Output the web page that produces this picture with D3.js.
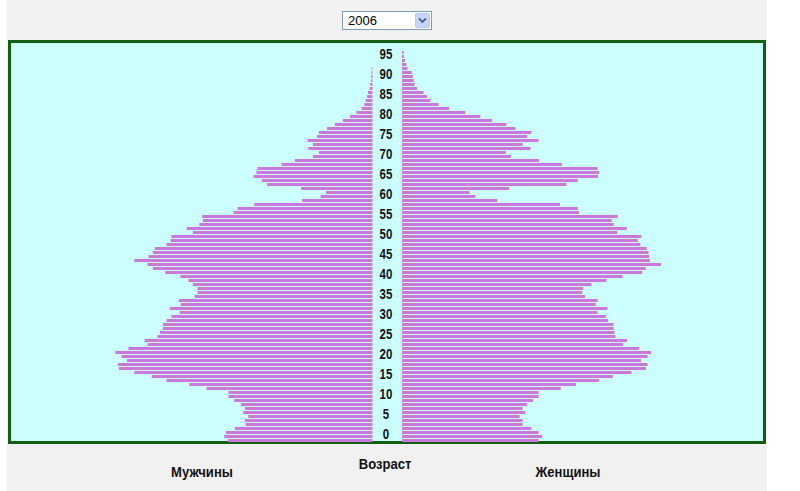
<!DOCTYPE html>
<html><head><meta charset="utf-8">
<script src="https://cdn.jsdelivr.net/npm/d3@7"></script>
<style>
html,body{margin:0;padding:0;background:#fff;}
svg{display:block;}
</style></head>
<body>
<svg id="chart" width="800" height="491"></svg>
<script>
// ---- data ----
const years = ["2006"];
const ages = [0,1,2,3,4,5,6,7,8,9,10,11,12,13,14,15,16,17,18,19,20,21,22,23,24,25,26,27,28,29,30,31,32,33,34,35,36,37,38,39,40,41,42,43,44,45,46,47,48,49,50,51,52,53,54,55,56,57,58,59,60,61,62,63,64,65,66,67,68,69,70,71,72,73,74,75,76,77,78,79,80,81,82,83,84,85,86,87,88,89,90,91,92,93,94,95,96,97];
// thousands of people
const males = [723,741,732,688,634,638,621,646,638,657,
691,720,720,830,916,1030,1104,1191,1268,1273,
1227,1255,1286,1220,1125,1139,1075,1063,1048,1048,
1030,1005,964,1014,959,968,889,875,875,898,
920,961,1036,1098,1125,1191,1120,1098,1089,1030,
1009,1005,898,929,866,848,852,695,675,591,
352,259,232,357,527,554,595,580,575,455,
388,298,268,321,298,325,277,268,227,188,
148,113,80,54,41,34,27,23,14,11,
7,7,5,4,0,0,0,0];
const females = [683,701,683,647,603,603,588,617,603,626,
656,683,683,794,870,986,1054,1147,1219,1228,
1195,1228,1245,1186,1106,1126,1067,1063,1058,1058,
1031,1019,978,1027,969,978,915,901,906,947,
1022,1103,1201,1219,1295,1240,1236,1233,1224,1192,
1179,1197,1076,1124,1058,1049,1079,885,879,790,
477,367,338,536,822,879,981,986,978,799,
686,544,519,642,603,683,626,647,567,522,
451,392,317,236,183,142,126,108,76,63,
59,54,49,28,22,15,10,8];
const ageTicks = [0,5,10,15,20,25,30,35,40,45,50,55,60,65,70,75,80,85,90,95];
const labelMale = "Мужчины";
const labelAge = "Возраст";
const labelFemale = "Женщины";

// ---- drawing ----
const svg = d3.select("#chart");
const sans = "'Liberation Sans',Arial,sans-serif";
const narrowX = 0.82; // condensed, like Arial Narrow

svg.append("rect").attr("x",7).attr("y",0).attr("width",760).attr("height",491).attr("fill","#f1f1f1");

// year selector
const sel = svg.append("g");
sel.append("rect").attr("x",342.5).attr("y",11.5).attr("width",89).attr("height",18)
  .attr("fill","#fff").attr("stroke","#7f9db9");
sel.append("rect").attr("x",415.5).attr("y",13.5).attr("width",14).attr("height",14)
  .attr("fill","#c6d7fb").attr("stroke","#b3c8f5").attr("rx",1.5);
sel.append("path").attr("d","M419,18.5 L422.5,22 L426,18.5").attr("fill","none")
  .attr("stroke","#4d6185").attr("stroke-width",1.8);
sel.append("text").attr("x",348).attr("y",25).text(years[0])
  .attr("font-family",sans).attr("font-size",13).attr("fill","#000");

// chart box
svg.append("rect").attr("x",9.5).attr("y",41.5).attr("width",755).attr("height",401)
  .attr("fill","#ccffff").attr("stroke","#116011").attr("stroke-width",3);

const y = d3.scaleLinear().domain([0, 97]).range([440.5, 440.5 - 4*97]);
const xL = d3.scaleLinear().domain([0, 1000]).range([372.5, 372.5 - 200]);
const xR = d3.scaleLinear().domain([0, 1000]).range([402, 402 + 200]);
const barH = 3;

const data = ages.map((a,i)=>({age:a, m:males[i], f:females[i]}));

svg.append("g").selectAll("rect").data(data.filter(d=>d.m>0)).join("rect")
  .attr("x", d=>xL(d.m)).attr("width", d=>xL(0)-xL(d.m))
  .attr("y", d=>y(d.age)-barH/2).attr("height", barH)
  .attr("fill","#cc77dd");
svg.append("g").selectAll("rect").data(data.filter(d=>d.f>0)).join("rect")
  .attr("x", xR(0)).attr("width", d=>xR(d.f)-xR(0))
  .attr("y", d=>y(d.age)-barH/2).attr("height", barH)
  .attr("fill","#cc77dd");

svg.append("g").selectAll("text").data(ageTicks).join("text")
  .attr("transform", d=>`translate(386,${y(d)-1.5}) scale(${narrowX},1)`)
  .attr("text-anchor","middle")
  .attr("font-family",sans).attr("font-weight","bold").attr("font-size",14)
  .attr("fill","#111").text(d=>d);

const bottom = [
  {t:labelMale, x:202, y:477},
  {t:labelAge, x:385, y:469},
  {t:labelFemale, x:568, y:477}
];
svg.append("g").selectAll("text").data(bottom).join("text")
  .attr("transform", d=>`translate(${d.x},${d.y}) scale(0.87,1)`)
  .attr("text-anchor","middle")
  .attr("font-family",sans).attr("font-weight","bold").attr("font-size",15)
  .attr("fill","#111").text(d=>d.t);
</script>
</body></html>
